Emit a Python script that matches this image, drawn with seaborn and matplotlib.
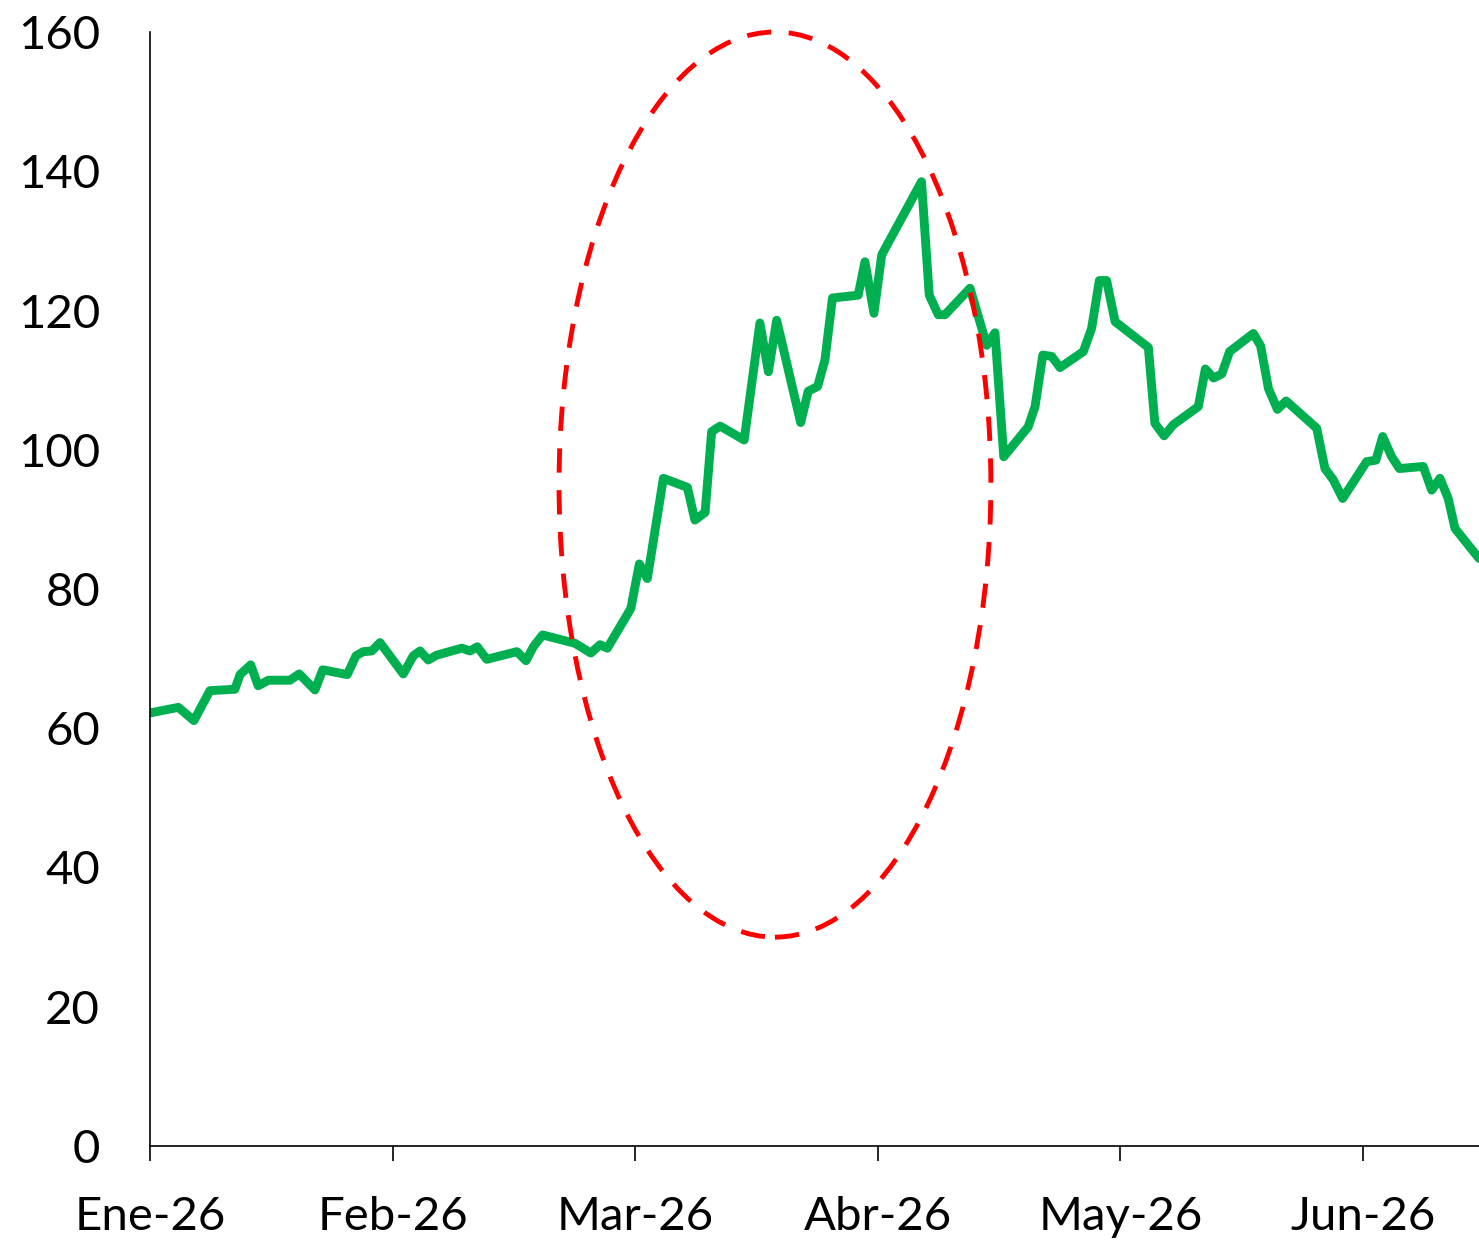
import matplotlib
matplotlib.use("Agg")
import matplotlib.pyplot as plt
from matplotlib.patches import Ellipse
import seaborn as sns
import pandas as pd

# x position measured in months from Ene-26 (tick spacing is one month)
month_pos = [
    0.000, 0.117, 0.181, 0.247, 0.350, 0.371, 0.415, 0.446, 0.488, 0.577,
    0.615, 0.680, 0.712, 0.813, 0.849, 0.879, 0.914, 0.948,
    1.044, 1.085, 1.113, 1.147, 1.182, 1.285, 1.319, 1.349, 1.388, 1.512,
    1.550, 1.580, 1.618, 1.752, 1.817, 1.855, 1.885, 1.982,
    2.017, 2.050, 2.116, 2.215, 2.246, 2.288, 2.315, 2.350, 2.449, 2.514,
    2.549, 2.583, 2.682, 2.713, 2.752, 2.782, 2.813, 2.919, 2.947, 2.984,
    3.016, 3.180, 3.212, 3.249, 3.277, 3.380, 3.449, 3.483, 3.519, 3.620,
    3.648, 3.680, 3.717, 3.751, 3.847, 3.881, 3.913, 3.943, 3.978,
    4.115, 4.142, 4.180, 4.218, 4.321, 4.350, 4.384, 4.418, 4.450, 4.548,
    4.578, 4.610, 4.647, 4.683, 4.809, 4.843, 4.877, 4.916,
    5.015, 5.053, 5.081, 5.118, 5.150, 5.248, 5.283, 5.317, 5.351, 5.379,
    5.478,
]
values = [
    62.2, 63.0, 61.1, 65.4, 65.6, 67.7, 69.1, 66.1, 66.9, 66.9,
    67.8, 65.5, 68.4, 67.7, 70.4, 71.0, 71.1, 72.3,
    67.8, 70.4, 71.1, 69.8, 70.5, 71.5, 71.1, 71.7, 69.9, 71.0,
    69.7, 71.7, 73.4, 72.2, 70.8, 72.0, 71.5, 77.2,
    83.6, 81.5, 95.9, 94.6, 89.9, 91.0, 102.6, 103.4, 101.4, 118.2,
    111.2, 118.6, 103.9, 108.4, 109.1, 112.9, 121.8, 122.2, 127.0, 119.6,
    128.0, 138.5, 122.2, 119.4, 119.4, 123.2, 115.0, 116.8, 99.0, 103.3,
    106.2, 113.6, 113.4, 111.8, 114.1, 117.4, 124.3, 124.3, 118.4,
    114.7, 103.8, 102.0, 103.6, 106.2, 111.6, 110.3, 110.9, 114.1, 116.7,
    114.9, 108.8, 105.8, 107.0, 103.1, 97.3, 95.7, 93.0,
    98.3, 98.5, 101.9, 99.0, 97.3, 97.6, 94.2, 95.9, 93.0, 88.7,
    84.4,
]
month_labels = ["Ene-26", "Feb-26", "Mar-26", "Abr-26", "May-26", "Jun-26"]
y_ticks = [0, 20, 40, 60, 80, 100, 120, 140, 160]

# highlighted zone (dashed ellipse)
zone_center = (2.576, 95.0)
zone_width = 1.78
zone_height = 130.0

df = pd.DataFrame({"mes": month_pos, "valor": values})

sns.set_style("white")
plt.rcParams["font.family"] = ["Lato", "DejaVu Sans"]

fig = plt.figure(figsize=(14.79, 12.41), dpi=100)
ax = fig.add_axes([150 / 1479, 95 / 1241, 1329 / 1479, 1114 / 1241])

sns.lineplot(data=df, x="mes", y="valor", ax=ax, color="#00B050",
             linewidth=6.4, estimator=None, sort=False)
for ln in ax.lines:
    ln.set_solid_joinstyle("round")

ellipse = Ellipse(zone_center, zone_width, zone_height, fill=False,
                  edgecolor="#FF0000", linewidth=3.5, linestyle=(0, (5, 3.6)),
                  clip_on=False, zorder=3)
ax.add_patch(ellipse)

ax.set_xlim(0, 5.478)
ax.set_ylim(0, 160)
ax.set_xticks(range(len(month_labels)))
ax.set_xticklabels(month_labels)
ax.set_yticks(y_ticks)
ax.set_xlabel("")
ax.set_ylabel("")

for side in ["top", "right"]:
    ax.spines[side].set_visible(False)
for side in ["left", "bottom"]:
    ax.spines[side].set_color("black")
    ax.spines[side].set_linewidth(1.2)

ax.tick_params(axis="x", direction="out", length=11, width=1.2, color="black",
               labelsize=34, pad=25, bottom=True, labelcolor="black")
ax.tick_params(axis="y", length=0, labelsize=34, pad=36, labelcolor="black")

plt.savefig("out.png", dpi=100)
